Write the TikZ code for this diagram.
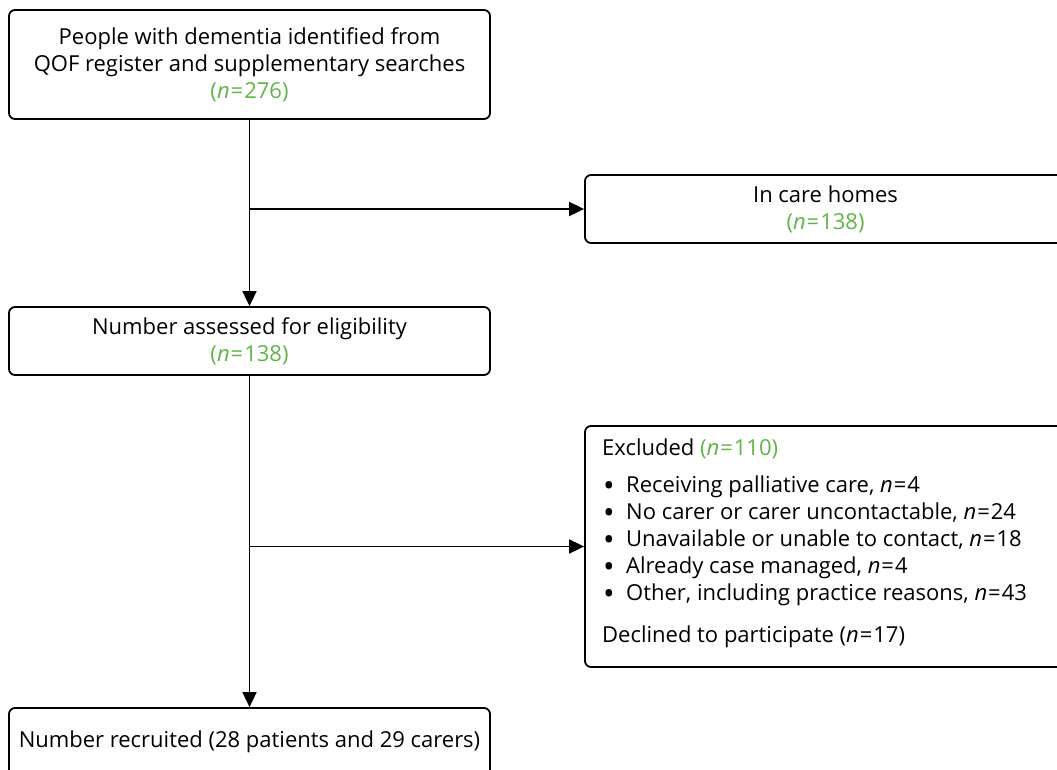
\documentclass[tikz,border=0pt]{standalone}
\usepackage{fontspec}
\setmainfont{Open Sans}
\usetikzlibrary{arrows.meta}
\definecolor{ngreen}{RGB}{96,181,72}
\newcommand{\nn}[1]{\textcolor{ngreen}{(\textit{n}\hspace{1pt}=\hspace{1pt}#1)}}
\newcommand{\nval}[1]{\textit{n}\hspace{1pt}=\hspace{1pt}#1}
\newcommand{\bul}{\makebox[24pt][l]{\hspace{1pt}\raisebox{-3.5pt}[0pt][0pt]{\scalebox{1.4}{•}}}}
\begin{document}
\begin{tikzpicture}[x=1pt,y=-1pt,
  box/.style={draw,line width=1.8pt,rounded corners=6pt,minimum width=481pt,inner sep=0pt,font=\fontsize{22}{27}\selectfont,align=center},
  conn/.style={line width=1.8pt,-{Triangle[length=15pt,width=14pt]}}]
\useasboundingbox (0,0) rectangle (1057,769);
\clip (0,0) rectangle (1057,769);
\node[box,minimum height=109pt] (b1) at (249.5,64.5) {People with dementia identified from\\QOF register and supplementary searches\\\nn{276}};
\node[box,minimum height=68pt] (care) at (825.5,209) {In care homes\\\nn{138}};
\node[box,minimum height=68pt] (b2) at (249.5,341) {Number assessed for eligibility\\\nn{138}};
\node[box,minimum height=241pt] (ex) at (825.5,546.5) {};
\node[anchor=north west,inner sep=0pt,align=left,font=\fontsize{22}{27}\selectfont] (extxt) at (602,439) {Excluded \nn{110}\\[10pt]
\bul Receiving palliative care, \nval{4}\\
\bul No carer or carer uncontactable, \nval{24}\\
\bul Unavailable or unable to contact, \nval{18}\\
\bul Already case managed, \nval{4}\\
\bul Other, including practice reasons, \nval{43}\\[15pt]
Declined to participate (\nval{17})};
\node[box,minimum height=68pt] (b3) at (249.5,742) {Number recruited (28 patients and 29 carers)};
\coordinate (j1) at (b1.south |- care.west);
\coordinate (j2) at (b1.south |- ex.west);
\draw[conn] (b1.south) -- (b2.north);
\draw[conn] (b2.south) -- (b3.north);
\draw[conn] (j1) -- (care.west);
\draw[conn] (j2) -- (ex.west);
\end{tikzpicture}
\end{document}
